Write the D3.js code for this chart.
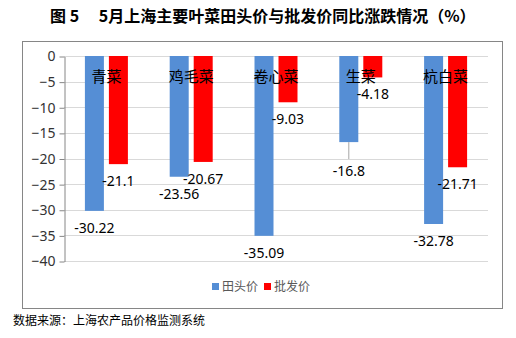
<!DOCTYPE html>
<html>
<head>
<meta charset="utf-8">
<script src="https://cdn.jsdelivr.net/npm/d3@7/dist/d3.min.js"></script>
<style>
  html, body { margin: 0; padding: 0; background: #fff; }
  svg { display: block; }
</style>
</head>
<body>
<script>
// Year-on-year change (%) of farm-gate and wholesale prices for leafy vegetables
const categories = ["青菜", "鸡毛菜", "卷心菜", "生菜", "杭白菜"];
const seriesNames = ["田头价", "批发价"];
const farmGate = [-30.22, -23.56, -35.09, -16.8, -32.78];
const wholesale = [-21.1, -20.67, -9.03, -4.18, -21.71];
const yTicks = [0, -5, -10, -15, -20, -25, -30, -35, -40];
const seriesColors = ["#558ed5", "#ff0000"];

const W = 516, H = 338;
const svg = d3.select("body").append("svg").attr("width", W).attr("height", H);

const plot = { left: 64, right: 488, top: 56, bottom: 261 };

// Title
svg.append("text")
  .attr("x", 50).attr("y", 22)
  .attr("font-family", "'Noto Sans CJK SC', sans-serif")
  .attr("font-weight", "bold").attr("font-size", 16)
  .attr("fill", "#000")
  .style("white-space", "pre")
  .text("图 5　 5月上海主要叶菜田头价与批发价同比涨跌情况（%）");

// Chart frame
svg.append("rect")
  .attr("x", 22.5).attr("y", 41.5).attr("width", 480).attr("height", 267)
  .attr("fill", "#fff").attr("stroke", "#868686").attr("stroke-width", 1);

const y = d3.scaleLinear().domain([-40, 0]).range([plot.bottom, plot.top]);
const x0 = d3.scaleBand().domain(categories).range([plot.left, plot.right])
  .paddingInner(0.493).paddingOuter(0.2465);
const x1 = d3.scaleBand().domain(seriesNames).range([0, x0.bandwidth()])
  .paddingInner(5 / 24);

// Gridlines
svg.append("g").selectAll("line").data(yTicks).join("line")
  .attr("x1", plot.left).attr("x2", plot.right)
  .attr("y1", d => Math.round(y(d)) + 0.5).attr("y2", d => Math.round(y(d)) + 0.5)
  .attr("stroke", "#d9d9d9").attr("stroke-width", 1);

// Y axis
const yAxis = svg.append("g")
  .attr("transform", `translate(${plot.left + 0.5},0.5)`)
  .call(d3.axisLeft(y).tickValues(yTicks).tickSize(5).tickSizeOuter(0).tickFormat(d3.format("d")));
yAxis.select(".domain").attr("stroke", "#868686");
yAxis.selectAll(".tick line").attr("stroke", "#868686");
yAxis.selectAll(".tick text")
  .attr("font-family", "'Noto Sans', sans-serif").attr("font-size", 14)
  .attr("fill", "#333").attr("x", -9);

const data = categories.map((c, i) => ({
  cat: c,
  vals: [
    { s: seriesNames[0], v: farmGate[i] },
    { s: seriesNames[1], v: wholesale[i] }
  ]
}));

// Bars
const groups = svg.append("g").selectAll("g").data(data).join("g")
  .attr("transform", d => `translate(${x0(d.cat)},0)`);

groups.selectAll("rect").data(d => d.vals).join("rect")
  .attr("x", d => x1(d.s))
  .attr("width", x1.bandwidth())
  .attr("y", y(0))
  .attr("height", d => y(d.v) - y(0))
  .attr("fill", (d, i) => seriesColors[i]);

// Value labels (the 生菜 farm-gate label sits lower with a leader line)
const pushed = { "生菜|田头价": 12 };
groups.each(function (g) {
  const sel = d3.select(this);
  g.vals.forEach(d => {
    const cx = x1(d.s) + x1.bandwidth() / 2;
    const extra = pushed[g.cat + "|" + d.s] || 0;
    if (extra) {
      sel.append("line")
        .attr("x1", cx).attr("x2", cx)
        .attr("y1", y(d.v)).attr("y2", y(d.v) + extra + 5)
        .attr("stroke", "#a6a6a6").attr("stroke-width", 1);
    }
    sel.append("text")
      .attr("x", cx).attr("y", y(d.v) + 22 + extra)
      .attr("text-anchor", "middle")
      .attr("font-family", "'Noto Sans', sans-serif").attr("font-size", 14)
      .attr("fill", "#000")
      .text(d.v);
  });
});

// Category names inside the plot, near the zero line
svg.append("g").selectAll("text").data(categories).join("text")
  .attr("x", d => x0(d) + x0.bandwidth() / 2)
  .attr("y", 82)
  .attr("text-anchor", "middle")
  .attr("font-family", "'Noto Sans CJK SC', sans-serif").attr("font-size", 15)
  .attr("fill", "#000")
  .text(d => d);

// Legend
const legend = svg.append("g");
const legendX = [212, 264];
seriesNames.forEach((s, i) => {
  legend.append("rect")
    .attr("x", legendX[i]).attr("y", 283).attr("width", 7).attr("height", 7)
    .attr("fill", seriesColors[i]);
  legend.append("text")
    .attr("x", legendX[i] + 10).attr("y", 291)
    .attr("font-family", "'Noto Sans CJK SC', sans-serif").attr("font-size", 12)
    .attr("fill", "#595959")
    .text(s);
});

// Source note
svg.append("text")
  .attr("x", 13).attr("y", 325)
  .attr("font-family", "'Noto Sans CJK SC', sans-serif").attr("font-size", 12)
  .attr("fill", "#000")
  .text("数据来源：上海农产品价格监测系统");
</script>
</body>
</html>
